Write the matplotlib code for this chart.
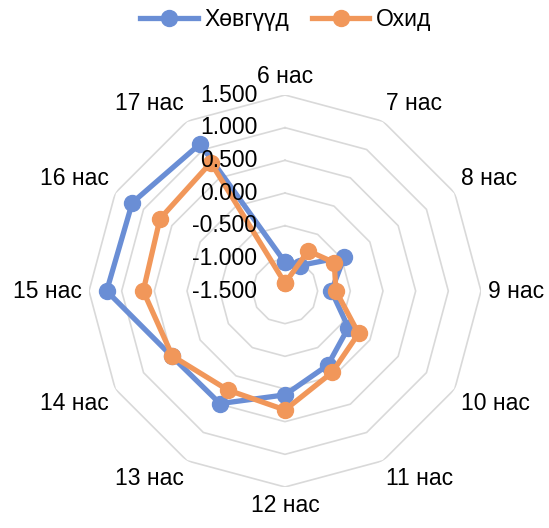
import numpy as np
import matplotlib.pyplot as plt

plt.rcParams['font.family'] = ['Liberation Sans', 'DejaVu Sans']

# ангилал (нас)
categories = ["6 нас", "7 нас", "8 нас", "9 нас", "10 нас", "11 нас",
              "12 нас", "13 нас", "14 нас", "15 нас", "16 нас", "17 нас"]
boys = [-1.06, -1.05, -0.45, -0.79, -0.38, -0.19, 0.09, 0.49, 0.50, 1.23, 1.20, 1.10]
girls = [-1.38, -0.79, -0.63, -0.72, -0.20, -0.06, 0.32, 0.25, 0.49, 0.67, 0.71, 0.77]
ring_values = [-1.0, -0.5, 0.0, 0.5, 1.0, 1.5]
ring_labels = ["-1.500", "-1.000", "-0.500", "0.000", "0.500", "1.000", "1.500"]

blue = "#6A8ED5"
orange = "#F1975A"
fs = 16.5

fig = plt.figure(figsize=(5.49, 5.28), dpi=100)
ax = fig.add_axes([89 / 549, 41 / 528, 392 / 549, 392 / 528], projection="polar")
ax.set_theta_zero_location("N")
ax.set_theta_direction(-1)
ax.set_ylim(-1.5, 1.5)

n = len(categories)
theta = np.arange(n) * 2 * np.pi / n
theta_c = np.append(theta, theta[0])

# олон өнцөгт тор
for r in ring_values:
    ax.plot(theta_c, [r] * (n + 1), color="#D9D9D9", lw=1.2, zorder=1)

ax.grid(False)
ax.spines["polar"].set_visible(False)
ax.set_xticks([])
ax.set_yticks([])

ax.plot(theta_c, boys + boys[:1], color=blue, lw=3.8, marker="o", ms=11.5,
        label="Хөвгүүд", zorder=3, solid_joinstyle="round")
ax.plot(theta_c, girls + girls[:1], color=orange, lw=3.8, marker="o", ms=11.5,
        label="Охид", zorder=4, solid_joinstyle="round")

# тэнхлэгийн утгууд
for r, lab in zip([-1.5] + ring_values, ring_labels):
    ax.annotate(lab, xy=(0, r), xytext=(-20, 0), textcoords="offset points",
                ha="right", va="center", fontsize=fs, zorder=5)

# ангиллын нэрс
for t, lab in zip(theta, categories):
    s, c = np.sin(t), np.cos(t)
    ha = "left" if s > 0.1 else ("right" if s < -0.1 else "center")
    va = "bottom" if c > 0.1 else ("top" if c < -0.1 else "center")
    ax.annotate(lab, xy=(t, 1.5), xytext=(5 * s, 5 * c), textcoords="offset points",
                ha=ha, va=va, fontsize=fs)

fig.legend(loc="center", bbox_to_anchor=(286 / 549, 1 - 20 / 528), ncol=2,
           frameon=False, fontsize=fs, handlelength=2.5, columnspacing=1.0,
           handletextpad=0.3)

fig.savefig("out.png", dpi=100)
